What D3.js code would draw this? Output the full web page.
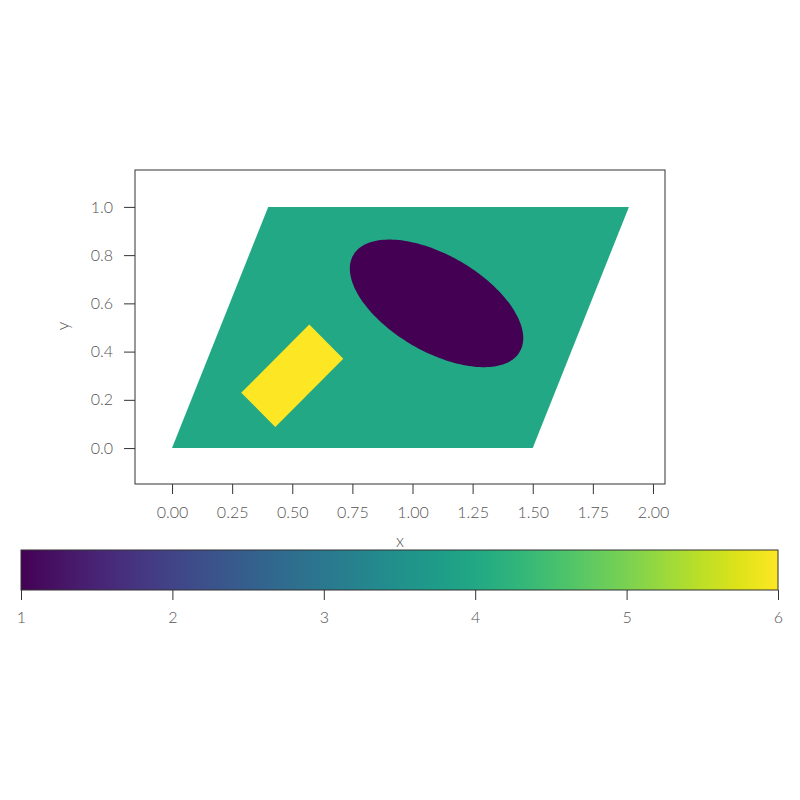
<!DOCTYPE html>
<html>
<head>
<meta charset="utf-8">
<script src="https://cdn.jsdelivr.net/npm/d3@7"></script>
<style>
  body { margin: 0; background: #fff; }
  text { font-family: Lato, "Open Sans", sans-serif; font-weight: 300; fill: #555; }
</style>
</head>
<body>
<svg id="chart" width="800" height="800"></svg>
<script>
// region values (colour index on the 1..6 scale)
const parallelogram = [[0, 0], [1.5, 0], [1.9, 1], [0.4, 1]]
const parallelogramValue = 4
const ellipseCenter = [1.1, 0.6]
const ellipseAxes = [0.4, 0.2]
const ellipseAngle = -30   // degrees
const ellipseValue = 1
const rectCenter = [0.5, 0.3]
const rectSize = [0.4, 0.2]
const rectAngle = 45       // degrees
const rectValue = 6

const xTicks = [0, 0.25, 0.5, 0.75, 1.0, 1.25, 1.5, 1.75, 2.0]
const yTicks = [0, 0.2, 0.4, 0.6, 0.8, 1.0]
const cbTicks = [1, 2, 3, 4, 5, 6]
const colorRange = [1, 6]

var svg = d3.select("#chart")

var xScale = d3.scaleLinear().domain([-0.154, 2.05]).range([135, 665]),
    yScale = d3.scaleLinear().domain([-0.149, 1.153]).range([484, 170]),
    cScale = d3.scaleLinear().domain(colorRange).range([0, 1])

function colorOf(v) { return d3.interpolateViridis(cScale(v)) }

var line = d3.line().x(function(d) { return xScale(d[0]) }).y(function(d) { return yScale(d[1]) })

// parallelogram
svg.append("path")
  .attr("d", line(parallelogram) + "Z")
  .attr("fill", colorOf(parallelogramValue))

// ellipse outline from its parameters
var ellipsePts = d3.range(0, 361, 2).map(function(t) {
  var a = t * Math.PI / 180, r = ellipseAngle * Math.PI / 180
  var ex = ellipseAxes[0] * Math.cos(a), ey = ellipseAxes[1] * Math.sin(a)
  return [ellipseCenter[0] + ex * Math.cos(r) - ey * Math.sin(r),
          ellipseCenter[1] + ex * Math.sin(r) + ey * Math.cos(r)]
})
svg.append("path")
  .attr("d", line(ellipsePts) + "Z")
  .attr("fill", colorOf(ellipseValue))

// rotated rectangle
var rectPts = [[-1, -1], [1, -1], [1, 1], [-1, 1]].map(function(s) {
  var r = rectAngle * Math.PI / 180
  var ex = s[0] * rectSize[0] / 2, ey = s[1] * rectSize[1] / 2
  return [rectCenter[0] + ex * Math.cos(r) - ey * Math.sin(r),
          rectCenter[1] + ex * Math.sin(r) + ey * Math.cos(r)]
})
svg.append("path")
  .attr("d", line(rectPts) + "Z")
  .attr("fill", colorOf(rectValue))

// frame
svg.append("rect")
  .attr("x", 135).attr("y", 170).attr("width", 530).attr("height", 314)
  .attr("fill", "none").attr("stroke", "#333").attr("stroke-width", 1)

// axes
var xAxis = svg.append("g")
  .attr("transform", "translate(0,484)")
  .call(d3.axisBottom(xScale).tickValues(xTicks).tickFormat(d3.format(".2f")).tickSizeInner(10).tickSizeOuter(0).tickPadding(13))
var yAxis = svg.append("g")
  .attr("transform", "translate(135,0)")
  .call(d3.axisLeft(yScale).tickValues(yTicks).tickFormat(d3.format(".1f")).tickSizeInner(11).tickSizeOuter(0).tickPadding(11))

;[xAxis, yAxis].forEach(function(g) {
  g.select(".domain").remove()
  g.selectAll(".tick line").attr("stroke", "#333")
  g.selectAll(".tick text").attr("font-size", "16px").style("fill", "#555")
})

svg.append("text")
  .attr("x", 400).attr("y", 547)
  .attr("text-anchor", "middle")
  .attr("font-size", "17px")
  .text("x")

svg.append("text")
  .attr("transform", "translate(69,326) rotate(-90)")
  .attr("text-anchor", "middle")
  .attr("font-size", "17px")
  .text("y")

// colorbar
var cbX = d3.scaleLinear().domain(colorRange).range([21, 778])
var grad = svg.append("defs").append("linearGradient").attr("id", "viridis")
d3.range(0, 1.0001, 0.05).forEach(function(t) {
  grad.append("stop").attr("offset", (t * 100) + "%").attr("stop-color", d3.interpolateViridis(t))
})
svg.append("rect")
  .attr("x", 21).attr("y", 550).attr("width", 757).attr("height", 40)
  .attr("fill", "url(#viridis)")
  .attr("stroke", "#333").attr("stroke-width", 1)

var cbAxis = svg.append("g")
  .attr("transform", "translate(0,590)")
  .call(d3.axisBottom(cbX).tickValues(cbTicks).tickFormat(d3.format("d")).tickSizeInner(10).tickSizeOuter(0).tickPadding(12))
cbAxis.select(".domain").remove()
cbAxis.selectAll(".tick line").attr("stroke", "#333")
cbAxis.selectAll(".tick text").attr("font-size", "16px").style("fill", "#555")
</script>
</body>
</html>
